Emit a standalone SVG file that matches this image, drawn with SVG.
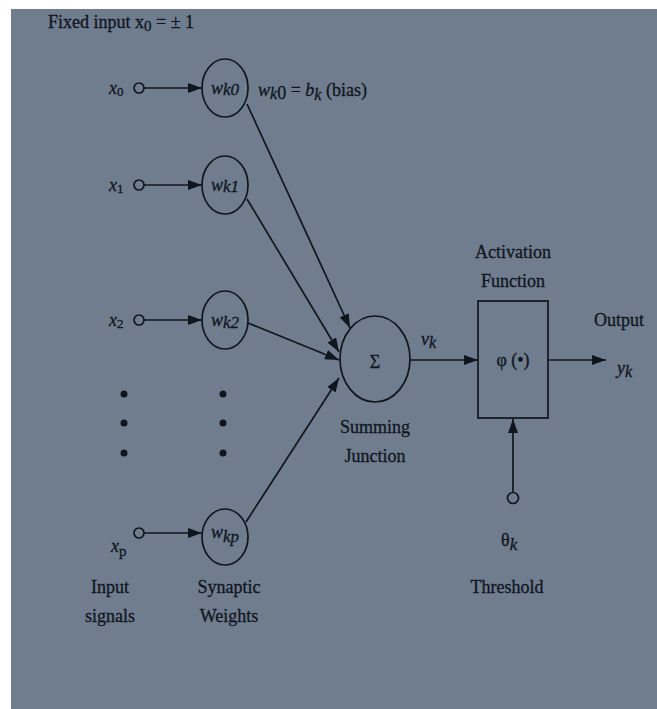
<svg xmlns="http://www.w3.org/2000/svg" width="657" height="709" viewBox="0 0 657 709">
<style>
text{font-family:"Liberation Serif","Times New Roman",serif;fill:#10161e;font-size:18px;stroke:#10161e;stroke-width:0.3}
.i{font-style:italic}
.c{text-anchor:middle}
.ln{stroke:#10161e;stroke-width:1.7;fill:none}
.nd{stroke:#10161e;stroke-width:1.7;fill:none}
.dot{fill:#10161e}
</style>
<defs>
<marker id="ah" viewBox="0 0 14 10" refX="14" refY="5" markerWidth="14" markerHeight="10" markerUnits="userSpaceOnUse" orient="auto">
<path d="M0,0 L14,5 L0,10 Z" fill="#10161e"/>
</marker>
</defs>
<rect x="0" y="0" width="657" height="709" fill="#ffffff"/>
<rect x="11" y="9" width="646" height="700" fill="#6f7d8f"/>

<text x="48" y="28" font-size="21">Fixed input x<tspan font-size="15" dy="3">0</tspan><tspan dy="-3"> = ± 1</tspan></text>

<g id="connectors">
<line class="ln" x1="144" y1="88" x2="202" y2="88" marker-end="url(#ah)"/>
<line class="ln" x1="144" y1="185" x2="202" y2="185" marker-end="url(#ah)"/>
<line class="ln" x1="144" y1="320" x2="202" y2="320" marker-end="url(#ah)"/>
<line class="ln" x1="144" y1="533" x2="202" y2="533" marker-end="url(#ah)"/>
<line class="ln" x1="247" y1="104" x2="350" y2="328" marker-end="url(#ah)"/>
<line class="ln" x1="247" y1="199" x2="339" y2="352" marker-end="url(#ah)"/>
<line class="ln" x1="248" y1="323" x2="339" y2="360" marker-end="url(#ah)"/>
<line class="ln" x1="246" y1="522" x2="339" y2="378" marker-end="url(#ah)"/>
<line class="ln" x1="410" y1="360" x2="478" y2="360" marker-end="url(#ah)"/>
<line class="ln" x1="548" y1="360" x2="606" y2="360" marker-end="url(#ah)"/>
<line class="ln" x1="513" y1="492" x2="513" y2="419" marker-end="url(#ah)"/>
</g>

<g id="x0"><circle class="nd" cx="139" cy="88" r="5"/><text x="109" y="94" class="i">x<tspan font-size="13" font-style="normal" dy="2">0</tspan></text></g>
<g id="x1"><circle class="nd" cx="139" cy="185" r="5"/><text x="109" y="191" class="i">x<tspan font-size="13" font-style="normal" dy="2">1</tspan></text></g>
<g id="x2"><circle class="nd" cx="139" cy="320" r="5"/><text x="109" y="326" class="i">x<tspan font-size="13" font-style="normal" dy="2">2</tspan></text></g>
<g id="xp"><circle class="nd" cx="139" cy="533" r="5"/><text x="111" y="552" class="i">x<tspan font-size="15" font-style="normal" dy="4">p</tspan></text></g>

<g id="wk0"><ellipse class="nd" cx="225" cy="88" rx="23" ry="29"/><text x="225" y="94" class="i c" font-size="16">w<tspan font-size="17" dy="1">k0</tspan></text></g>
<g id="wk1"><ellipse class="nd" cx="225" cy="185" rx="23" ry="29"/><text x="225" y="191" class="i c" font-size="16">w<tspan font-size="17" dy="1">k1</tspan></text></g>
<g id="wk2"><ellipse class="nd" cx="225" cy="320" rx="23" ry="29"/><text x="225" y="326" class="i c" font-size="16">w<tspan font-size="17" dy="2">k2</tspan></text></g>
<g id="wkp"><ellipse class="nd" cx="225" cy="537" rx="23" ry="28"/><text x="225" y="538" class="i c" font-size="16">w<tspan font-size="17" dy="4">kp</tspan></text></g>

<text x="258" y="96" font-size="20"><tspan class="i">w</tspan><tspan class="i" font-size="16" dy="3">k</tspan><tspan font-size="18">0</tspan><tspan dy="-3"> = </tspan><tspan class="i">b</tspan><tspan class="i" font-size="16" dy="4">k</tspan><tspan dy="-4"> (bias)</tspan></text>

<g id="dots">
<circle class="dot" cx="124" cy="394" r="3.5"/><circle class="dot" cx="124" cy="423" r="3.5"/><circle class="dot" cx="124" cy="453" r="3.5"/>
<circle class="dot" cx="223" cy="394" r="3.5"/><circle class="dot" cx="223" cy="423" r="3.5"/><circle class="dot" cx="223" cy="453" r="3.5"/>
</g>

<g id="sum"><ellipse class="nd" cx="375" cy="359" rx="35" ry="43"/><text x="375" y="368" class="c" font-size="22">Σ</text></g>
<text x="375" y="433" class="c" font-size="19">Summing</text>
<text x="375" y="462" class="c" font-size="19">Junction</text>

<text x="421" y="345" class="i" font-size="20">v<tspan font-size="16" dy="3">k</tspan></text>

<g id="activation"><rect class="nd" x="478" y="301" width="70" height="117"/><text x="513" y="366" class="c" font-size="19">φ (•)</text></g>
<text x="513" y="258" class="c" font-size="19">Activation</text>
<text x="513" y="287" class="c" font-size="19">Function</text>

<text x="619" y="326" class="c" font-size="19">Output</text>
<text x="617" y="374" class="i" font-size="20">y<tspan font-size="16" dy="3">k</tspan></text>

<g id="threshold"><circle class="nd" cx="513" cy="498" r="5.5"/></g>
<text x="501" y="546" font-size="23">θ<tspan class="i" font-size="17" dy="4">k</tspan></text>
<text x="507" y="593" class="c" font-size="19">Threshold</text>

<text x="110" y="593" class="c" font-size="19">Input</text>
<text x="110" y="622" class="c" font-size="19">signals</text>
<text x="229" y="593" class="c" font-size="19">Synaptic</text>
<text x="229" y="622" class="c" font-size="19">Weights</text>
</svg>
